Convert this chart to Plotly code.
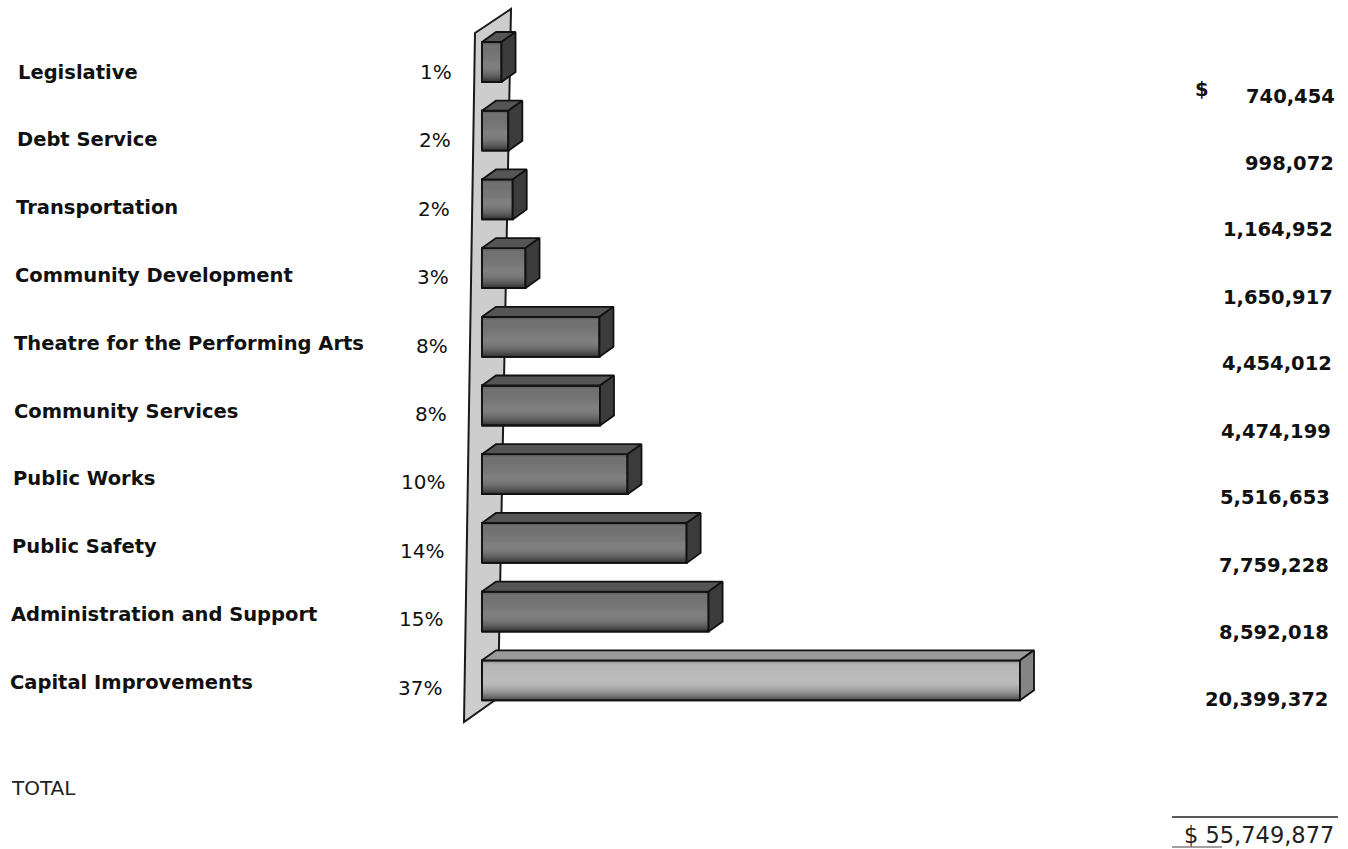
import plotly.graph_objects as go

# ---------------- data ----------------
categories = ["Legislative", "Debt Service", "Transportation", "Community Development",
              "Theatre for the Performing Arts", "Community Services", "Public Works",
              "Public Safety", "Administration and Support", "Capital Improvements"]
amounts = [740454, 998072, 1164952, 1650917, 4454012, 4474199, 5516653, 7759228,
           8592018, 20399372]
percents = ["1%", "2%", "2%", "3%", "8%", "8%", "10%", "14%", "15%", "37%"]
amount_labels = ["740,454", "998,072", "1,164,952", "1,650,917", "4,454,012", "4,474,199",
                 "5,516,653", "7,759,228", "8,592,018", "20,399,372"]
total_label = "$ 55,749,877"

# ---------------- geometry / style ----------------
W, H = 1348, 849
X0_PX = 482.0          # pixel of value 0
PX_PER_UNIT = 538.0 / 20399372.0
ROW0_PX, ROW_STEP = 62.0, 68.7
n = len(categories)
yv = [n - 1 - i for i in range(n)]           # top row has the highest value

x_range = [-X0_PX / PX_PER_UNIT, (W - X0_PX) / PX_PER_UNIT]
y_range = [(n - 1) - (H - ROW0_PX) / ROW_STEP, (n - 1) + ROW0_PX / ROW_STEP]

bar_w = 40.0 / ROW_STEP
dx = 14.0 / PX_PER_UNIT
dy = 10.0 / ROW_STEP

def pxx(p):
    return p / W

def pxy(p):
    return 1 - p / H

vmax = max(amounts)
front_cols, top_cols, side_cols = [], [], []
for a in amounts:
    if a == vmax:
        front_cols.append("#b4b4b4"); top_cols.append("#9a9a9a"); side_cols.append("#858585")
    else:
        front_cols.append("#6a6a6a"); top_cols.append("#555555"); side_cols.append("#3c3c3c")

fig = go.Figure()

# front faces as real bars
fig.add_trace(go.Bar(
    x=amounts, y=yv, orientation="h", width=bar_w,
    marker=dict(color=front_cols, line=dict(color="#111111", width=1.8)),
    hoverinfo="skip", showlegend=False,
))

# 3D top / side faces + shading of the front faces
for a, y, tc, sc in zip(amounts, yv, top_cols, side_cols):
    top = y + bar_w / 2
    bot = y - bar_w / 2
    fig.add_trace(go.Scatter(
        x=[0, a, a, 0, 0], y=[bot, bot, top, top, bot], mode="lines",
        fill="toself", line=dict(width=0, color="rgba(0,0,0,0)"),
        fillgradient=dict(type="vertical", start=bot, stop=top,
                          colorscale=[[0, "rgba(15,15,15,0.65)"], [0.55, "rgba(255,255,255,0.10)"],
                                      [0.85, "rgba(255,255,255,0.04)"], [1, "rgba(0,0,0,0.30)"]]),
        hoverinfo="skip", showlegend=False,
    ))
    fig.add_trace(go.Scatter(
        x=[0, a, a, 0, 0], y=[bot, bot, top, top, bot], mode="lines",
        line=dict(color="#111111", width=1.8), hoverinfo="skip", showlegend=False,
    ))
    fig.add_trace(go.Scatter(
        x=[0, a, a + dx, dx, 0], y=[top, top, top + dy, top + dy, top], mode="lines",
        fill="toself", fillcolor=tc, line=dict(color="#111111", width=1.8),
        hoverinfo="skip", showlegend=False,
    ))
    fig.add_trace(go.Scatter(
        x=[a, a + dx, a + dx, a, a], y=[top, top + dy, bot + dy, bot, top], mode="lines",
        fill="toself", fillcolor=sc, line=dict(color="#111111", width=1.8),
        hoverinfo="skip", showlegend=False,
    ))

# back wall (decoration, below the bars)
wall = [(475, 33), (511, 9), (498, 698), (464, 722)]
path = "M " + " L ".join(f"{pxx(x):.5f},{pxy(y):.5f}" for x, y in wall) + " Z"
shapes = [
    dict(type="path", xref="paper", yref="paper", path=path, layer="below",
         fillcolor="#cdcdcd", line=dict(color="#1a1a1a", width=2)),
    dict(type="line", xref="paper", yref="paper", x0=pxx(1172), x1=pxx(1338),
         y0=pxy(817), y1=pxy(817), line=dict(color="#222222", width=1.5)),
    dict(type="line", xref="paper", yref="paper", x0=pxx(1172), x1=pxx(1222),
         y0=pxy(847), y1=pxy(847), line=dict(color="#444444", width=1.2)),
]

annotations = []
LABEL_FONT = dict(family="DejaVu Sans", size=19.5, color="#111111", weight="bold")
PCT_FONT = dict(family="DejaVu Sans", size=20, color="#111111")
for i, (c, p, v) in enumerate(zip(categories, percents, amount_labels)):
    ly = 72 + 67.8 * i
    annotations.append(dict(text=c, x=pxx(16 - 0.9 * i), y=pxy(ly), xref="paper", yref="paper",
                            xanchor="left", yanchor="middle", showarrow=False, font=LABEL_FONT))
    annotations.append(dict(text=p, x=pxx(454 - 1.1 * i), y=pxy(72 + 68.4 * i), xref="paper",
                            yref="paper", xanchor="right", yanchor="middle", showarrow=False,
                            font=PCT_FONT))
    annotations.append(dict(text=v, x=pxx(1337 - 0.8 * i), y=pxy(96 + 67.0 * i), xref="paper",
                            yref="paper", xanchor="right", yanchor="middle", showarrow=False,
                            font=LABEL_FONT))

annotations.append(dict(text="$", x=pxx(1202), y=pxy(90), xref="paper", yref="paper",
                        xanchor="center", yanchor="middle", showarrow=False, font=LABEL_FONT))
annotations.append(dict(text="TOTAL", x=pxx(9), y=pxy(788), xref="paper", yref="paper",
                        xanchor="left", yanchor="middle", showarrow=False,
                        font=dict(family="DejaVu Sans", size=20, color="#222222")))
annotations.append(dict(text=total_label, x=pxx(1336), y=pxy(835), xref="paper", yref="paper",
                        xanchor="right", yanchor="middle", showarrow=False,
                        font=dict(family="DejaVu Sans", size=22.5, color="#222222")))

fig.update_layout(
    width=W, height=H, margin=dict(l=0, r=0, t=0, b=0),
    paper_bgcolor="white", plot_bgcolor="white",
    xaxis=dict(range=x_range, visible=False, fixedrange=True),
    yaxis=dict(range=y_range, visible=False, fixedrange=True),
    shapes=shapes, annotations=annotations, showlegend=False,
)

fig.write_html("out.html")
